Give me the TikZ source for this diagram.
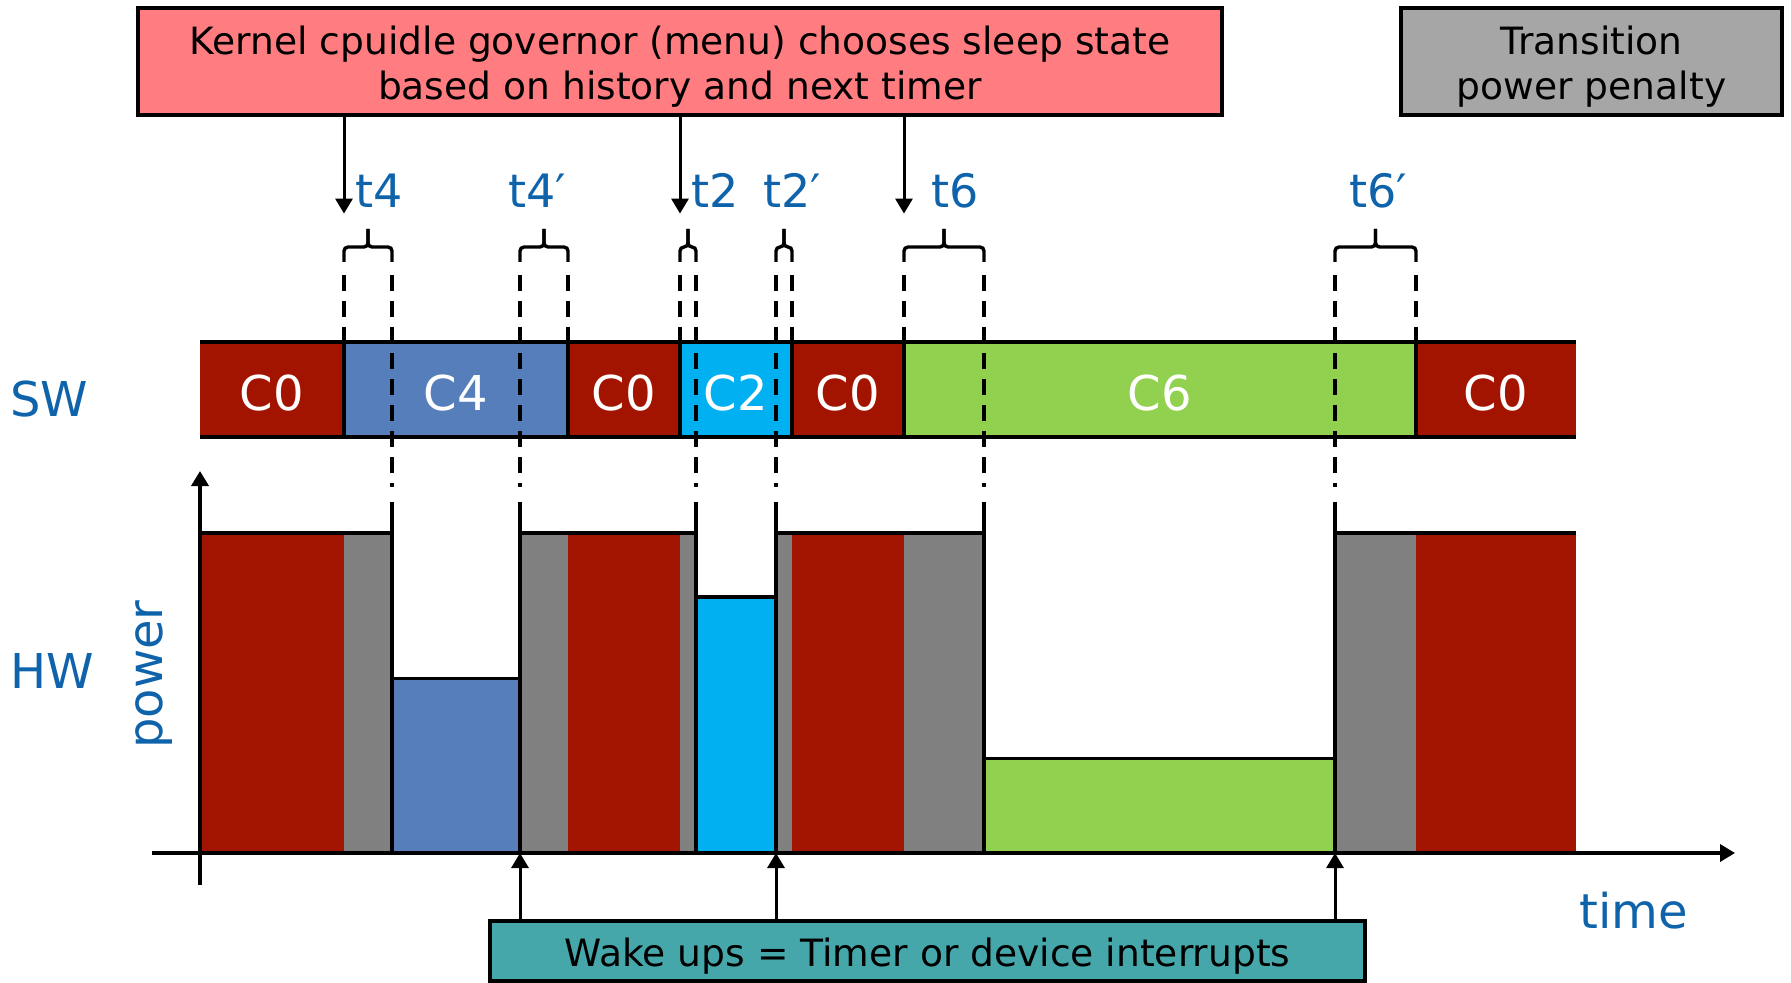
\documentclass[tikz,border=0pt]{standalone}
\usepackage{fontspec}
\setmainfont{DejaVu Sans}
\usetikzlibrary{arrows.meta}

\definecolor{czero}{RGB}{162,20,0}
\definecolor{cfour}{RGB}{86,126,186}
\definecolor{ctwo}{RGB}{0,176,240}
\definecolor{csix}{RGB}{146,208,80}
\definecolor{cpen}{RGB}{128,128,128}
\definecolor{pinkbox}{RGB}{255,124,128}
\definecolor{graybox}{RGB}{166,166,166}
\definecolor{tealbox}{RGB}{70,167,170}
\definecolor{labelblue}{RGB}{14,99,170}

\begin{document}
\begin{tikzpicture}[x=0.5pt,y=-0.5pt,
  main/.style={line width=1.6pt},
  guide/.style={line width=1.6pt, dash pattern=on 8pt off 5pt},
  bracepath/.style={line width=1.7pt, rounded corners=2pt},
  arr/.style={line width=1.5pt, -{Triangle[length=7.5pt,width=8.5pt]}},
  axisline/.style={line width=1.8pt, -{Triangle[length=7.5pt,width=8.5pt]}},
  lbl/.style={text=labelblue, font=\fontsize{24}{28}\selectfont, inner sep=0pt},
  tlbl/.style={text=labelblue, font=\fontsize{23}{27}\selectfont, inner sep=0pt, anchor=base west},
  statelbl/.style={text=white, font=\fontsize{24}{28}\selectfont, inner sep=0pt},
  boxframe/.style={draw, line width=2pt, inner sep=0pt},
  boxtext/.style={font=\fontsize{18.8}{22.6}\selectfont, align=center, inner sep=0pt}]

\useasboundingbox (0,0) rectangle (1791,983);

% ---------- hardware power profile ----------
\foreach \a/\b/\t/\c in {200/344/533/czero, 344/392/533/cpen, 392/520/678.5/cfour,
    520/568/533/cpen, 568/680/533/czero, 680/696/533/cpen, 696/776/597/ctwo,
    776/792/533/cpen, 792/904/533/czero, 904/984/533/cpen, 984/1335/758.4/csix,
    1335/1416/533/cpen, 1416/1576/533/czero}
  \fill[\c] (\a,\t) rectangle (\b,853);

\draw[main] (200,533) -- (392,533)
            (392,678.5) -- (520,678.5)
            (520,533) -- (696,533)
            (696,597) -- (776,597)
            (776,533) -- (984,533)
            (984,758.4) -- (1335,758.4)
            (1335,533) -- (1576,533);
\foreach \x in {392,520,696,776,984,1335}
  \draw[main] (\x,502) -- (\x,853);

% ---------- software state bar ----------
\foreach \a/\b/\c/\t/\n in {200/344/czero/C0/s1, 344/568/cfour/C4/s2,
    568/680/czero/C0/s3, 680/792/ctwo/C2/s4, 792/904/czero/C0/s5,
    904/1416/csix/C6/s6, 1416/1576/czero/C0/s7}
{
  \fill[\c] (\a,342) rectangle (\b,437);
  \node[statelbl] (\n) at ({(\a+\b)/2},393) {\t};
}
\draw[main] (200,342) -- (1576,342) (200,437) -- (1576,437);
\foreach \x in {344,568,680,792,904,1416}
  \draw[main] (\x,342) -- (\x,437);

% ---------- transition guides and braces ----------
\foreach \x in {344,568,680,792,904,1416}
  \draw[guide] (\x,275) -- (\x,342);
\foreach \x in {392,520,696,776,984,1335}
  \draw[guide] (\x,275) -- (\x,487);
\foreach \a/\b in {344/392, 520/568, 680/696, 776/792, 904/984, 1335/1416}
{
  \draw[bracepath] (\a,262) -- (\a,247) -- ({(\a+\b)/2},247) -- ({(\a+\b)/2},229);
  \draw[bracepath] (\b,262) -- (\b,247) -- ({(\a+\b)/2},247) -- ({(\a+\b)/2},229);
}

% ---------- axes ----------
\coordinate (xs) at (152,853);
\coordinate (xe) at (1735,853);
\coordinate (ys) at (200,885);
\coordinate (ye) at (200,471);
\draw[axisline] (xs) -- (xe);
\draw[axisline] (ys) -- (ye);

% ---------- boxes ----------
\node[boxframe, fill=pinkbox, minimum width=542pt, minimum height=53.3pt] (gov) at (680,61.3) {};
\node[boxtext] (govtxt) at (680,67)
  {Kernel cpuidle governor (menu) chooses sleep state\\based on history and next timer};
\node[boxframe, fill=graybox, minimum width=190.5pt, minimum height=53.3pt] (pen) at (1591.5,61.3) {};
\node[boxtext] (pentxt) at (1591.5,67) {Transition\\power penalty};
\node[boxframe, fill=tealbox, minimum width=437.5pt, minimum height=30pt] (wake) at (927.5,950.5) {};
\node[boxtext] (waketxt) at (927.5,956) {Wake ups = Timer or device interrupts};

% ---------- governor decisions and wake ups ----------
\coordinate (d4) at (344,213.6);
\coordinate (d2) at (680,213.6);
\coordinate (d6) at (904,213.6);
\foreach \p in {d4,d2,d6}
  \draw[arr] (gov.south -| \p) -- (\p);

\coordinate (w4) at (520,853);
\coordinate (w2) at (776,853);
\coordinate (w6) at (1335,853);
\foreach \p in {w4,w2,w6}
  \draw[arr] (wake.north -| \p) -- (\p);

% ---------- labels ----------
\node[tlbl] (lt4)  at (355,208)  {t4};
\node[tlbl] (lt4p) at (508,208)  {t4′};
\node[tlbl] (lt2)  at (691,208)  {t2};
\node[tlbl] (lt2p) at (763,208)  {t2′};
\node[tlbl] (lt6)  at (931,208)  {t6};
\node[tlbl] (lt6p) at (1349,208) {t6′};

\node[lbl, anchor=base west] (swl) at (10,417) {SW};
\node[lbl, anchor=base west] (hwl) at (10,688) {HW};
\node[lbl, anchor=base, rotate=90] (pwr) at (162,674.5) {power};
\node[lbl, anchor=base west] (tml) at (1579,928) {time};
\end{tikzpicture}
\end{document}
